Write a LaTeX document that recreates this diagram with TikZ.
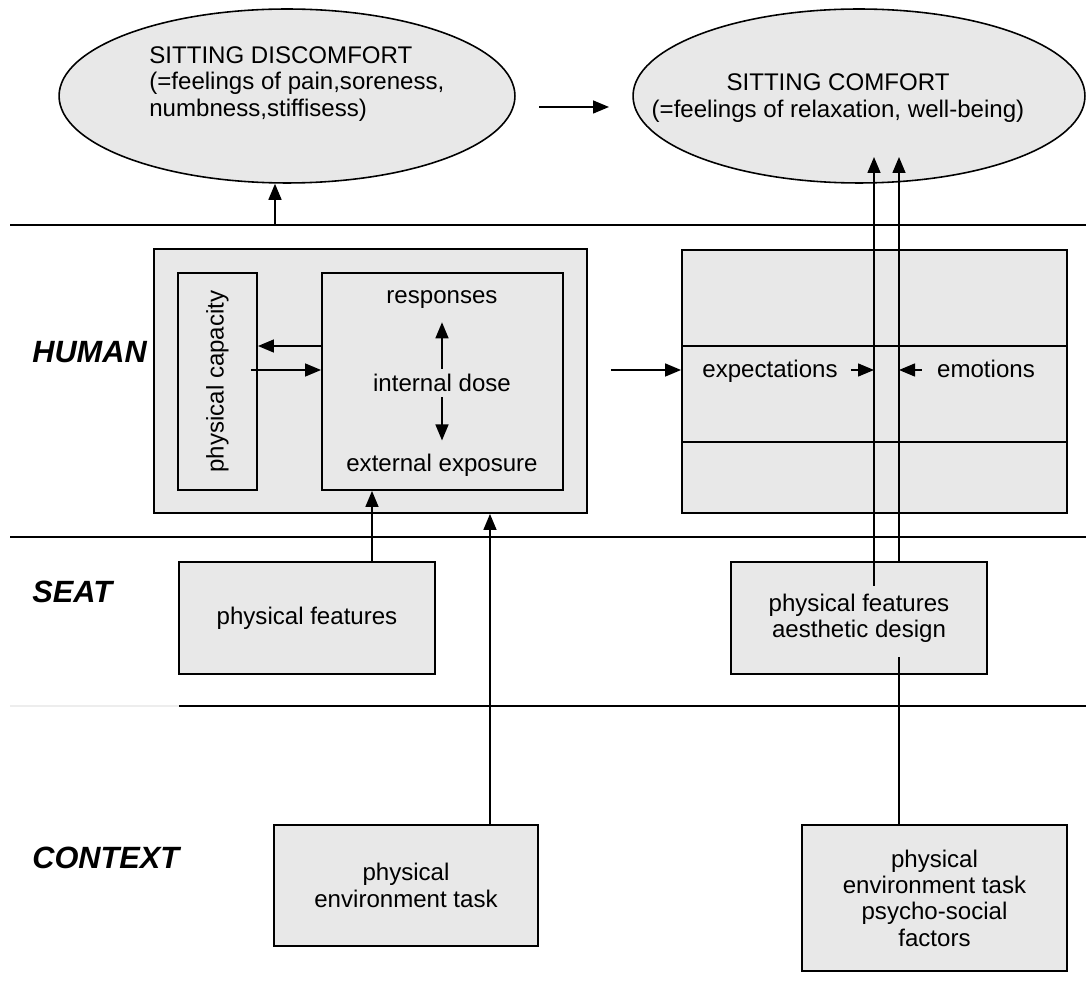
\documentclass[tikz,border=0pt]{standalone}
\usepackage{fontspec}
\setmainfont{Liberation Sans}
\usepackage{graphicx}
\usepackage{tikz}
\usetikzlibrary{arrows.meta,shapes.geometric}
\definecolor{panel}{HTML}{E8E8E8}
\definecolor{faint}{HTML}{EDEDED}
\newcommand{\diagfont}{\fontsize{13.7pt}{15pt}\selectfont}
\newcommand{\layerfont}{\fontsize{17.5pt}{20pt}\selectfont\bfseries\itshape}
\tikzset{
  panelbox/.style={
    draw=black, line width=1.1pt, fill=panel,
    inner sep=0pt, align=center, font=\diagfont},
  bubble/.style={
    ellipse, draw=black, line width=0.9pt, fill=panel, inner sep=0pt},
  words/.style={inner sep=0pt, align=center, font=\diagfont},
  tag/.style={words, text height=0.95em, text depth=0.1em},
  layer/.style={inner sep=0pt, anchor=west, font=\layerfont},
  divider/.style={draw=black, line width=1.2pt},
  flow/.style={draw=black, line width=0.85pt, -{Triangle[length=3.2mm,width=2.6mm]}},
  tie/.style={draw=black, line width=0.85pt},
}
\begin{document}
\begin{tikzpicture}[x=0.02cm, y=-0.02cm]
  \useasboundingbox (0,0) rectangle (1086,986);

  \draw[divider] (10,225) -- (1086,225);
  \draw[divider] (10,537) -- (1086,537);
  \draw[divider] (179,706) -- (1086,706);
  \draw[draw=faint, line width=1pt] (10,706) -- (179,706);

  \node[bubble, minimum width=9.12cm, minimum height=3.48cm] (disc) at (287,96) {};
  \node[words, align=left, anchor=west] (discTxt) at (149,84)
    {SITTING DISCOMFORT\\(=feelings of pain,soreness,\\numbness,stiffisess)};
  \node[bubble, minimum width=9.04cm, minimum height=3.48cm] (comf) at (859,96) {};
  \node[words] (comfTxt) at (838,98)
    {SITTING COMFORT\\(=feelings of relaxation, well-being)};

  \node[layer] (human) at (32,352) {HUMAN};
  \node[layer] (seat) at (32,592) {SEAT};
  \node[layer] (context) at (32,858) {CONTEXT};

  \node[panelbox, minimum width=8.66cm, minimum height=5.28cm] (body) at (370.5,381) {};
  \node[panelbox, minimum width=1.58cm, minimum height=4.34cm] (cap) at (217.5,381.5)
    {\rotatebox{90}{physical capacity}};
  \node[panelbox, minimum width=4.82cm, minimum height=4.34cm] (dosebox) at (442.5,381.5) {};
  \node[words, inner sep=0.1cm] (resp) at (442,300) {responses};
  \node[words, inner sep=0.1cm] (dose) at (442,383) {internal dose};
  \node[words, inner sep=0.1cm] (expo) at (442,465) {external exposure};

  \node[panelbox, minimum width=7.7cm, minimum height=5.26cm] (mind) at (874.5,381.5) {};
  \node[panelbox, minimum width=7.7cm, minimum height=1.92cm] (band) at (874.5,394) {};
  \node[tag] (expect) at (770,370) {expectations};
  \node[tag] (emot) at (986,370) {emotions};

  \node[panelbox, minimum width=5.12cm, minimum height=2.24cm] (seatL) at (307,618)
    {physical features};
  \node[panelbox, minimum width=5.12cm, minimum height=2.24cm] (seatR) at (859,618)
    {physical features\\aesthetic design};
  \node[panelbox, minimum width=5.28cm, minimum height=2.42cm] (ctxL) at (406,885.5)
    {physical\\environment task};
  \node[panelbox, minimum width=5.3cm, minimum height=2.92cm] (ctxR) at (934.5,898)
    {physical\\environment task\\psycho-social\\factors};

  \coordinate (discFoot) at (275,225);
  \coordinate (gapL) at (539,107);
  \coordinate (gapR) at (609,107);
  \coordinate (riseA) at (874,586);
  \coordinate (tipA) at (874,157);
  \coordinate (tipB) at (899,157);
  \coordinate (dropB) at (899,657);

  \draw[flow] (discFoot) -- (discFoot |- disc.south);
  \draw[flow] (gapL) -- (gapR);
  \draw[flow] ([yshift=0.71cm]dosebox.west) -- ([yshift=0.71cm]cap.east);
  \draw[flow] ([xshift=-0.14cm,yshift=0.23cm]cap.east) -- ([yshift=0.23cm]dosebox.west);
  \draw[flow, shorten >=0.16cm] (dose.north) -- (resp.south);
  \draw[flow, shorten >=0.16cm] (dose.south) -- (expo.north);
  \draw[flow] ([xshift=1.3cm]seatL.north) -- ([xshift=1.3cm]seatL.north |- dosebox.south);
  \draw[flow] ([xshift=1.68cm]ctxL.north) -- ([xshift=1.68cm]ctxL.north |- body.south);
  \draw[flow] ([xshift=0.46cm]body.east |- expect.west) -- (mind.west |- expect.west);
  \draw[flow] ([xshift=0.26cm]expect.east) -- (expect.east -| riseA);
  \draw[flow] ([xshift=-0.3cm]emot.west) -- (emot.west -| tipB);
  \draw[flow] (riseA) -- (tipA);
  \draw[flow] (tipB |- seatR.north) -- (tipB);
  \draw[tie] (dropB |- ctxR.north) -- (dropB);

\end{tikzpicture}
\end{document}
